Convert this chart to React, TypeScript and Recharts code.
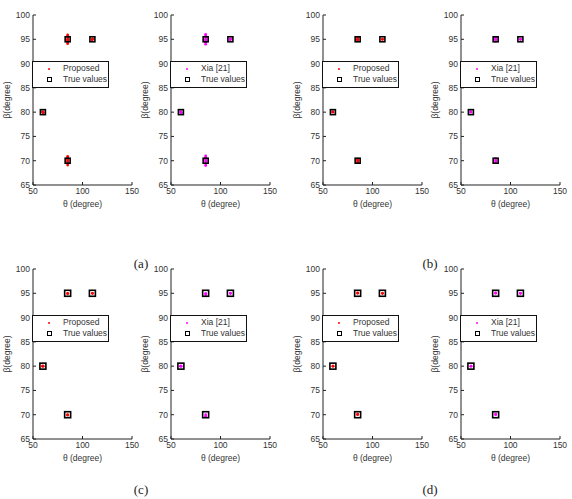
import React from "react";
import { Legend, Scatter, ScatterChart, XAxis, YAxis } from "recharts";

// True source directions (theta, beta) in degrees
const trueTheta = [60, 85, 110, 85];
const trueBeta = [80, 95, 95, 70];

// Estimated directions from the Monte Carlo runs, one list per panel
const estAProposed = [
  [60, 80], [59.7, 80.1], [60.3, 79.9],
  [85, 94.1], [85, 94.5], [85, 94.8], [85, 95], [85, 95.3], [85, 95.6], [85, 95.9],
  [110, 95], [110.2, 95.1], [109.8, 94.9],
  [85, 69.1], [85, 69.5], [85, 69.8], [85, 70], [85, 70.3], [85, 70.6], [85, 70.9],
];
const estAXia = [
  [60, 80], [59.7, 80.1], [60.3, 79.9],
  [85, 94.0], [85, 94.4], [85, 94.8], [85, 95], [85, 95.3], [85, 95.7], [85, 96.0],
  [110, 95], [110.2, 95.1], [109.8, 94.9],
  [85, 69.0], [85, 69.4], [85, 69.8], [85, 70], [85, 70.3], [85, 70.7], [85, 71.0],
];
const estBProposed = [
  [60, 80], [59.8, 80.1],
  [85, 94.7], [85, 95], [85, 95.3], [84.8, 95],
  [110, 95], [110.2, 95],
  [85, 69.7], [85, 70], [85, 70.3], [85.2, 70],
];
const estBXia = [
  [60, 80], [59.8, 80.1],
  [85, 94.6], [85, 95], [85, 95.4], [84.8, 95],
  [110, 95], [110.2, 95],
  [85, 69.6], [85, 70], [85, 70.4], [85.2, 70],
];
const estCProposed = [
  [60, 80], [59.6, 80], [60.3, 80],
  [85, 95], [85, 94.9],
  [110, 95], [110.1, 95],
  [85, 70], [85, 69.9],
];
const estCXia = [
  [60, 80], [59.6, 80], [60.3, 80],
  [85, 95], [85, 94.7],
  [110, 95], [110.1, 95],
  [85, 70], [85, 69.7],
];
const estDProposed = [
  [60, 80], [60.2, 80],
  [85, 95], [85, 95.1],
  [110, 95], [110.1, 95],
  [85, 70], [85, 70.1],
];
const estDXia = [
  [60, 80], [60.2, 80],
  [85, 95], [85, 95.1],
  [110, 95], [110.1, 95],
  [85, 70], [85, 70.1],
];

const thetaTicks = [50, 100, 150];
const betaTicks = [65, 70, 75, 80, 85, 90, 95, 100];

const FONT = "'Liberation Sans', Arial, sans-serif";
const RED = "#ff0000";
const MAGENTA = "#ff00ff";

const trueData = trueTheta.map((t, i) => ({ theta: t, beta: trueBeta[i] }));
const toPoints = (rows: number[][]) => rows.map(([theta, beta]) => ({ theta, beta }));

const Dot = (color: string) => (props: any) => (
  <circle cx={props.cx} cy={props.cy} r={1.4} fill={color} />
);

const Square = (size: number) => (props: any) => (
  <rect
    x={props.cx - size / 2}
    y={props.cy - size / 2}
    width={size}
    height={size}
    fill="none"
    stroke="#000"
    strokeWidth={1.6}
  />
);

const BetaTitle = (props: any) => {
  const vb = props.viewBox || { x: 0, y: 15, width: 33, height: 170 };
  const cx = vb.x + 7;
  const cy = vb.y + vb.height / 2;
  return (
    <text
      x={cx}
      y={cy}
      transform={`rotate(-90, ${cx}, ${cy})`}
      textAnchor="middle"
      dominantBaseline="central"
      fontSize={8.5}
      fontFamily={FONT}
      fill="#333"
    >
      β(degree)
    </text>
  );
};

const LegendBox = ({ method, color }: { method: string; color: string }) => (
  <div
    style={{
      width: 75,
      height: 24,
      border: "1px solid #111",
      background: "#fff",
      fontFamily: FONT,
      fontSize: 8.5,
      color: "#333",
      lineHeight: "11px",
      paddingTop: 1,
      boxSizing: "content-box",
    }}
  >
    <div style={{ display: "flex", alignItems: "center", height: 11 }}>
      <span style={{ width: 30, position: "relative", height: 11 }}>
        <span
          style={{
            position: "absolute",
            left: 15,
            top: 5,
            width: 2,
            height: 2,
            borderRadius: 1,
            background: color,
          }}
        />
      </span>
      <span>{method}</span>
    </div>
    <div style={{ display: "flex", alignItems: "center", height: 11 }}>
      <span style={{ width: 30, position: "relative", height: 11 }}>
        <span
          style={{
            position: "absolute",
            left: 14,
            top: 3,
            width: 3,
            height: 3,
            border: "1px solid #000",
          }}
        />
      </span>
      <span>True values</span>
    </div>
  </div>
);

interface PanelProps {
  left: number;
  top: number;
  method: string;
  color: string;
  estimates: number[][];
  squareSize: number;
}

function Panel({ left, top, method, color, estimates, squareSize }: PanelProps) {
  return (
    <div style={{ position: "absolute", left, top }}>
      <ScatterChart
        width={140}
        height={215}
        margin={{ top: 15, right: 8, left: 0, bottom: 0 }}
      >
        <XAxis
          type="number"
          dataKey="theta"
          domain={[50, 150]}
          ticks={thetaTicks}
          allowDataOverflow
          height={30}
          stroke="#222"
          tickSize={-3}
          tickMargin={6}
          tick={{ fontSize: 8.5, fontFamily: FONT, fill: "#333" }}
          label={{
            value: "θ (degree)",
            position: "insideBottom",
            offset: 8,
            fontSize: 8.5,
            fontFamily: FONT,
            fill: "#333",
          }}
        />
        <YAxis
          type="number"
          dataKey="beta"
          domain={[65, 100]}
          ticks={betaTicks}
          allowDataOverflow
          width={33}
          stroke="#222"
          tickSize={-3}
          tickMargin={6}
          tick={{ fontSize: 8.5, fontFamily: FONT, fill: "#333" }}
          label={{ content: <BetaTitle /> }}
        />
        {/* middle/center alignment keeps the legend from shrinking the plot area */}
        <Legend
          layout="horizontal"
          verticalAlign="middle"
          align="center"
          content={() => <LegendBox method={method} color={color} />}
          wrapperStyle={{ left: 32, top: 61, width: "auto", height: "auto" }}
        />
        <Scatter
          name={method}
          data={toPoints(estimates)}
          shape={Dot(color)}
          isAnimationActive={false}
        />
        <Scatter
          name="True values"
          data={trueData}
          shape={Square(squareSize)}
          isAnimationActive={false}
        />
      </ScatterChart>
    </div>
  );
}

const captionStyle: React.CSSProperties = {
  position: "absolute",
  fontFamily: "'Liberation Serif', 'DejaVu Serif', serif",
  fontSize: 13,
  color: "#222",
  transform: "translate(-50%, -50%)",
};

export default function App() {
  return (
    <div
      style={{
        position: "absolute",
        left: 0,
        top: 0,
        width: 572,
        height: 499,
        background: "#fff",
        overflow: "hidden",
      }}
    >
      <Panel left={0} top={0} method="Proposed" color={RED} estimates={estAProposed} squareSize={5} />
      <Panel left={138} top={0} method="Xia [21]" color={MAGENTA} estimates={estAXia} squareSize={5} />
      <Panel left={290} top={0} method="Proposed" color={RED} estimates={estBProposed} squareSize={5} />
      <Panel left={428} top={0} method="Xia [21]" color={MAGENTA} estimates={estBXia} squareSize={5} />
      <Panel left={0} top={254} method="Proposed" color={RED} estimates={estCProposed} squareSize={6} />
      <Panel left={138} top={254} method="Xia [21]" color={MAGENTA} estimates={estCXia} squareSize={6} />
      <Panel left={290} top={254} method="Proposed" color={RED} estimates={estDProposed} squareSize={6} />
      <Panel left={428} top={254} method="Xia [21]" color={MAGENTA} estimates={estDXia} squareSize={6} />
      <div style={{ ...captionStyle, left: 141, top: 264 }}>(a)</div>
      <div style={{ ...captionStyle, left: 430, top: 264 }}>(b)</div>
      <div style={{ ...captionStyle, left: 141, top: 490 }}>(c)</div>
      <div style={{ ...captionStyle, left: 430, top: 490 }}>(d)</div>
    </div>
  );
}
